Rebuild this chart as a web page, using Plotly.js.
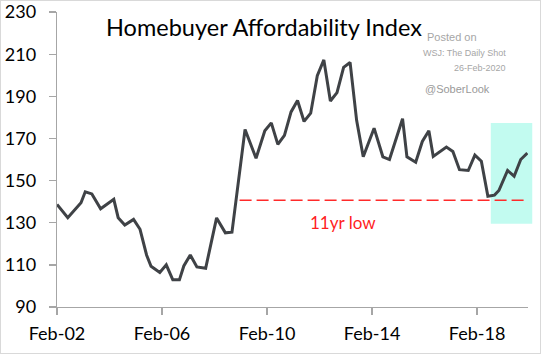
<!DOCTYPE html>
<html>
<head>
<meta charset="utf-8">
<script src="https://cdn.plot.ly/plotly-3.0.1.min.js"></script>
<style>
  html, body { margin: 0; padding: 0; background: #ffffff; }
  #chart { width: 541px; height: 354px; box-sizing: border-box; border: 1px solid #d9d9d9; }
</style>
</head>
<body>
<div id="chart"></div>
<script>
// ---- data (visible vertices of the line) ----
const dates = [
  '2002-02-01','2002-07-01','2003-01-01','2003-03-01','2003-06-01','2003-10-01',
  '2004-04-01','2004-06-01','2004-09-01','2005-01-01','2005-04-01','2005-07-01',
  '2005-09-01','2006-01-01','2006-04-01','2006-07-01','2006-10-01','2006-12-01',
  '2007-03-01','2007-06-01','2007-10-01','2008-03-01','2008-07-01','2008-10-01',
  '2009-04-01','2009-09-01','2010-01-01','2010-04-01','2010-07-01','2010-10-01',
  '2011-01-01','2011-04-01','2011-07-01','2011-10-01','2012-01-01','2012-04-01',
  '2012-07-01','2012-10-01','2013-01-01','2013-04-01','2013-07-01','2013-10-01',
  '2014-03-01','2014-07-01','2014-10-01','2015-04-01','2015-06-01','2015-10-01',
  '2016-01-01','2016-04-01','2016-06-01','2016-12-01','2017-03-01','2017-06-01',
  '2017-10-01','2018-01-01','2018-04-01','2018-07-01','2018-10-01','2018-12-01',
  '2019-04-01','2019-07-01','2019-10-01','2020-01-01'
];
const affordability = [
  138.7,132.4,139.5,144.7,143.7,136.6,
  141.1,132.4,128.9,131.6,126.9,114.7,
  109.3,106.4,110.0,102.9,102.9,109.5,
  114.7,109.0,108.4,132.3,125.2,125.5,
  174.3,160.6,173.7,177.4,167.2,171.5,
  182.6,188.0,178.1,182.0,199.8,207.3,
  187.8,191.8,203.8,206.1,178.6,161.3,
  174.9,161.3,160.0,179.4,161.3,158.7,
  168.6,173.7,161.5,165.9,163.8,155.2,
  154.8,162.1,159.2,142.6,143.1,145.3,
  154.8,152.1,160.0,163.1
];
const lowLevel = 140.7;                       // "11yr low" reference level
const lowDates = ['2009-01-15', '2020-01-10']; // span of the dashed line
const highlightRange = [129.5, 177.3];        // shaded box (index values)
const xTickVals = ['2002-02-01','2006-02-01','2010-02-01','2014-02-01','2018-02-01'];
const xTickText = ['Feb-02','Feb-06','Feb-10','Feb-14','Feb-18'];
const yTickVals = [90,110,130,150,170,190,210,230];

const axisGray = '#a6a6a6';
const tickFont = {family: 'Lato, "Open Sans", sans-serif', size: 18, color: '#000000'};

const traces = [
  {
    x: lowDates, y: [lowLevel, lowLevel], type: 'scatter', mode: 'lines',
    line: {color: '#ff2a2a', width: 1.6, dash: '12px,5px'},
    hoverinfo: 'skip', showlegend: false
  },
  {
    x: dates, y: affordability, type: 'scatter', mode: 'lines',
    line: {color: '#3f4246', width: 3},
    showlegend: false
  }
];

const layout = {
  width: 539, height: 352,
  margin: {l: 56, r: 12, t: 11, b: 46, pad: 0},
  paper_bgcolor: '#ffffff', plot_bgcolor: '#ffffff',
  showlegend: false,
  title: {
    text: 'Homebuyer Affordability Index',
    font: {family: 'Lato, "Open Sans", sans-serif', size: 23.5, color: '#000000'},
    xref: 'container', yref: 'container',
    x: 263/539, xanchor: 'center',
    y: 1 - 27/352, yanchor: 'middle'
  },
  xaxis: {
    type: 'date',
    range: ['2002-02-01', '2020-01-10'],
    showgrid: false, zeroline: false,
    showline: true, linecolor: axisGray, linewidth: 1.3,
    ticks: 'outside', ticklen: 7, tickwidth: 1.3, tickcolor: axisGray,
    tickmode: 'array', tickvals: xTickVals, ticktext: xTickText,
    tickfont: {family: 'Lato, "Open Sans", sans-serif', size: 18, color: '#000000'},
    ticklabelstandoff: 3,
    fixedrange: true
  },
  yaxis: {
    range: [90, 230.05],
    showgrid: false, zeroline: false,
    showline: true, linecolor: axisGray, linewidth: 1.3,
    ticks: 'outside', ticklen: 7, tickwidth: 1.3, tickcolor: axisGray,
    tickmode: 'array', tickvals: yTickVals, ticktext: yTickVals.map(String),
    tickfont: tickFont, ticklabelstandoff: 9,
    ticklabeloverflow: 'allow',
    fixedrange: true
  },
  shapes: [
    {
      type: 'rect', layer: 'below',
      xref: 'paper', yref: 'y',
      x0: 0.921, x1: 1.009,
      y0: highlightRange[0], y1: highlightRange[1],
      fillcolor: '#c2fbf0', line: {width: 0}
    }
  ],
  annotations: [
    {text: '11yr low', xref: 'paper', yref: 'paper', x: 0.607, y: 0.285,
     xanchor: 'center', yanchor: 'middle', showarrow: false,
     font: {family: 'Lato, "Open Sans", sans-serif', size: 17, color: '#ff1f1f'}},
    {text: 'Posted on', xref: 'paper', yref: 'paper', x: 0.782, y: 0.9155,
     xanchor: 'left', yanchor: 'middle', showarrow: false,
     font: {family: '"Liberation Sans", Arial, sans-serif', size: 11, color: '#a6a6a6'}},
    {text: 'WSJ: The Daily Shot', xref: 'paper', yref: 'paper', x: 0.9585, y: 0.8615,
     xanchor: 'right', yanchor: 'middle', showarrow: false,
     font: {family: '"Liberation Sans", Arial, sans-serif', size: 9, color: '#a6a6a6'}},
    {text: '26-Feb-2020', xref: 'paper', yref: 'paper', x: 0.9565, y: 0.8085,
     xanchor: 'right', yanchor: 'middle', showarrow: false,
     font: {family: '"Liberation Sans", Arial, sans-serif', size: 9, color: '#a6a6a6'}},
    {text: '@SoberLook', xref: 'paper', yref: 'paper', x: 0.777, y: 0.739,
     xanchor: 'left', yanchor: 'middle', showarrow: false,
     font: {family: '"Liberation Sans", Arial, sans-serif', size: 11, color: '#9a9a9a'}}
  ]
};

Plotly.newPlot('chart', traces, layout, {displayModeBar: false, staticPlot: true});
</script>
</body>
</html>
